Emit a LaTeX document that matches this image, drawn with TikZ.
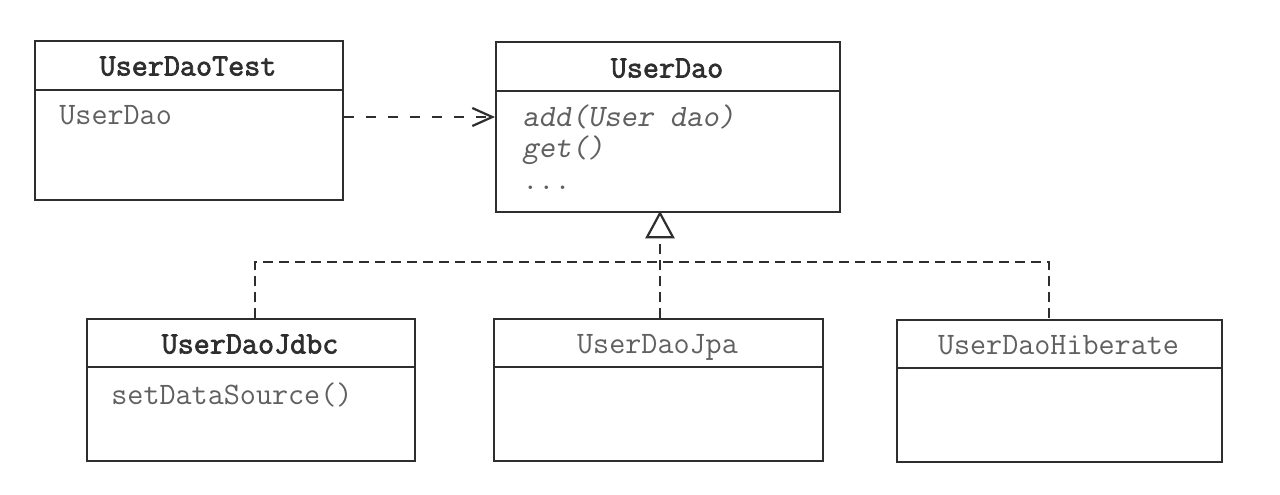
\documentclass[tikz,border=0pt]{standalone}
\usepackage{fontspec}
\newfontfamily\ttbold[FakeBold=2.2]{Latin Modern Mono}
\usetikzlibrary{arrows.meta}
\definecolor{linec}{HTML}{2E2E2E}
\definecolor{textc}{HTML}{606060}
\begin{document}
\begin{tikzpicture}[x=0.5pt,y=-0.5pt,
  box/.style={draw=linec, line width=1.1pt, inner sep=0pt, anchor=north west},
  divline/.style={draw=linec, line width=1.1pt},
  txt/.style={inner sep=0pt, text height=9.5pt, text depth=0pt},
  titlebold/.style={txt, font=\ttbold\fontsize{15.6}{18}\selectfont, text=linec},
  titleplain/.style={txt, font=\ttfamily\fontsize{15.6}{18}\selectfont, text=textc},
  member/.style={txt, font=\ttfamily\fontsize{15.6}{18}\selectfont, text=textc, anchor=west},
  membit/.style={txt, font=\ttfamily\slshape\fontsize{15.6}{18}\selectfont, text=textc, anchor=west},
  dep/.style={draw=linec, line width=1pt, dash pattern=on 5pt off 6pt, -{Straight Barb[length=10pt,width=9pt,line width=1.1pt]}},
  real/.style={draw=linec, line width=1pt, dash pattern=on 5pt off 3pt},
]
\useasboundingbox[fill=white] (0,0) rectangle (1280,494);

% UserDaoTest
\node[box, minimum width=154pt, minimum height=79.5pt] (test) at (34,40) {};
\draw[divline] (test.west |- 0,90) -- (test.east |- 0,90);
\node[titlebold] (testT) at (188,66) {UserDaoTest};
\node[member] (testM) at (59,115) {UserDao};

% UserDao
\node[box, minimum width=172pt, minimum height=85pt] (dao) at (495,41) {};
\draw[divline] (dao.west |- 0,91) -- (dao.east |- 0,91);
\node[titlebold] (daoT) at (667,68) {UserDao};
\node[membit] (daoM1) at (522,117) {add(User dao)};
\node[membit] (daoM2) at (522,148) {get()};
\node[member] (daoM3) at (522,180) {...};

% UserDaoJdbc
\node[box, minimum width=164pt, minimum height=71pt] (jdbc) at (86,318) {};
\draw[divline] (jdbc.west |- 0,367) -- (jdbc.east |- 0,367);
\node[titlebold] (jdbcT) at (250,344) {UserDaoJdbc};
\node[member] (jdbcM) at (111,395) {setDataSource()};

% UserDaoJpa
\node[box, minimum width=164.5pt, minimum height=71pt] (jpa) at (493,318) {};
\draw[divline] (jpa.west |- 0,367) -- (jpa.east |- 0,367);
\node[titleplain] (jpaT) at (657.5,344) {UserDaoJpa};

% UserDaoHiberate
\node[box, minimum width=162.5pt, minimum height=71pt] (hib) at (896,319) {};
\draw[divline] (hib.west |- 0,368) -- (hib.east |- 0,368);
\node[titleplain] (hibT) at (1058.5,345) {UserDaoHiberate};

% dependency
\draw[dep] (test.east |- 0,117) -- (dao.west |- 0,117);

% realization
\coordinate (jl) at (255,262);
\coordinate (jm) at (660,262);
\coordinate (hr) at (1049,262);
\draw[real] (jdbc.north -| jl) -- (jl) -- (hr) -- (hib.north -| hr);
\draw[real] (jpa.north -| jm) -- (0,236 -| jm);
\draw[linec, line width=1.1pt, fill=white] (dao.south -| jm) -- ++(13,24) -- ++(-26,0) -- cycle;
\end{tikzpicture}
\end{document}
